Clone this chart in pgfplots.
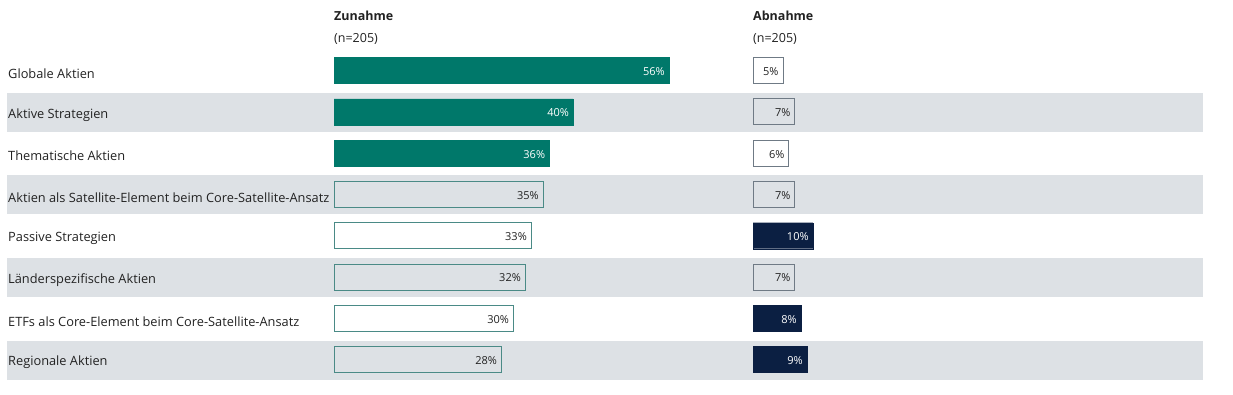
\documentclass[border=0pt]{standalone}
\usepackage{pgfplots}
\pgfplotsset{compat=1.18}
\usepackage{fontspec}
\setmainfont{Open Sans}
\definecolor{teal1}{HTML}{00786A}
\definecolor{navy1}{HTML}{0B1F42}
\definecolor{band}{HTML}{DDE1E5}
\definecolor{tealedge}{HTML}{4A8A86}
\definecolor{greyedge}{HTML}{6F7A85}
\definecolor{txt}{HTML}{222222}
\begin{document}
\begin{tikzpicture}
\path[use as bounding box] (0,0) rectangle (1233pt,-395pt);
\foreach \r in {2,4,6,8} {
  \pgfmathsetmacro{\yc}{70.5+41.3*(\r-1)}
  \fill[band] (7pt,-\yc pt+19pt) rectangle (1203pt,-\yc pt-20pt);
}
\pgfplotsset{
  rowaxis/.style={
    anchor=north west, scale only axis, width=358.8pt, height=330.4pt,
    xmin=0, xmax=60, ymin=0.5, ymax=8.5, y dir=reverse,
    axis line style={draw=none}, major tick length=0pt,
    xtick=\empty, clip=false,
    /pgf/number format/assume math mode=true,
    xbar, bar width=26pt, bar shift=0pt,
    point meta=x,
    nodes near coords={\pgfmathprintnumber{\pgfplotspointmeta}\%},
    nodes near coords style={anchor=east, font=\fontsize{11}{13}\selectfont, inner sep=0pt, xshift=-4pt, yshift=-1pt},
  }
}
\begin{axis}[rowaxis, at={(334pt,-49.85pt)},
  ytick={1,...,8},
  yticklabels={Globale Aktien, Aktive Strategien, Thematische Aktien, Aktien als Satellite-Element beim Core-Satellite-Ansatz, Passive Strategien, Länderspezifische Aktien, ETFs als Core-Element beim Core-Satellite-Ansatz, Regionale Aktien},
  yticklabel style={anchor=west, xshift=-326pt, yshift=-3pt, font=\fontsize{12.8}{15}\selectfont, text=txt, inner sep=0pt},
]
\addplot[fill=teal1, draw=teal1, nodes near coords style={text=white}] coordinates {(56,1) (40,2) (36,3)};
\addplot[fill=none, draw=tealedge, line width=1pt, nodes near coords style={text=txt}] coordinates {(35,4) (33,5) (32,6) (30,7) (28,8)};
\end{axis}
\begin{axis}[rowaxis, at={(753pt,-49.85pt)}, ytick=\empty]
\addplot[fill=navy1, draw=navy1, nodes near coords style={text=white}] coordinates {(10,5) (8,7) (9,8)};
\addplot[fill=none, draw=greyedge, line width=0.8pt, nodes near coords style={text=txt}] coordinates {(5,1) (7,2) (6,3) (7,4) (7,6)};
\end{axis}
\node[anchor=west, inner sep=0pt, font=\bfseries\fontsize{12.5}{14}\selectfont, text=txt] at (334pt,-16pt) {Zunahme};
\node[anchor=west, inner sep=0pt, font=\fontsize{12.5}{14}\selectfont, text=txt] at (334pt,-39pt) {(n=205)};
\node[anchor=west, inner sep=0pt, font=\bfseries\fontsize{12.5}{14}\selectfont, text=txt] at (753pt,-16pt) {Abnahme};
\node[anchor=west, inner sep=0pt, font=\fontsize{12.5}{14}\selectfont, text=txt] at (753pt,-39pt) {(n=205)};
\end{tikzpicture}
\end{document}
